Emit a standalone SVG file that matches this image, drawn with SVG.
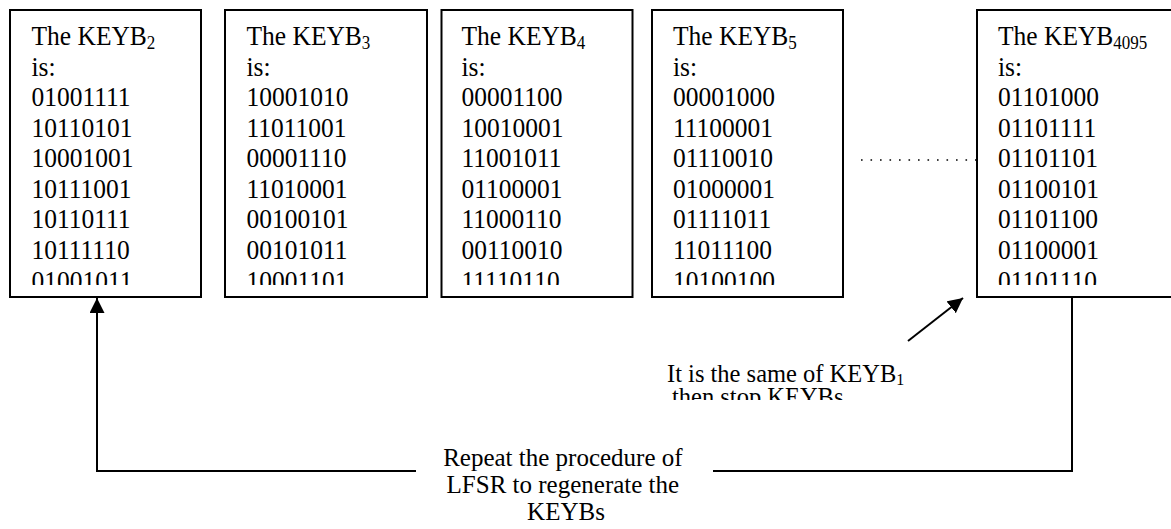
<svg xmlns="http://www.w3.org/2000/svg" width="1171" height="529" viewBox="0 0 1171 529">
  <style>
    .box { fill: #fff; stroke: #000; stroke-width: 2; }
    .t { font-family: "Liberation Serif", "Times New Roman", serif; font-size: 24px; fill: #000; }
    .k { font-size: 25.5px; }
    .k .sub { font-size: 17px; }
    .sub { font-size: 16px; }
    .note { font-size: 24.5px; }
    .rep { font-size: 25px; }
    .wire { fill: none; stroke: #000; stroke-width: 2; }
    .dots { fill: none; stroke: #000; stroke-width: 1.6; stroke-dasharray: 1.6 7.9; }
  </style>
  <defs>
    <marker id="head" markerUnits="userSpaceOnUse" markerWidth="16" markerHeight="16" refX="15" refY="7.5" orient="auto">
      <path d="M0,0 L15,7.5 L0,15 Z" fill="#000"/>
    </marker>
    <!-- last line of each key block is cut by the box frame -->
    <clipPath id="keyClip" clipPathUnits="userSpaceOnUse">
      <rect x="0" y="0" width="1171" height="285"/>
    </clipPath>
    <clipPath id="noteClip" clipPathUnits="userSpaceOnUse">
      <rect x="0" y="0" width="1171" height="400"/>
    </clipPath>
  </defs>

  <!-- connectors -->
  <g id="connectors">
    <path class="wire" d="M1072,297 V471 H713"/>
    <path class="wire" d="M416,471 H97 V298" marker-end="url(#head)"/>
    <line class="wire" x1="908" y1="341" x2="963" y2="298" marker-end="url(#head)"/>
    <line class="dots" x1="861" y1="160" x2="976" y2="160"/>
  </g>

  <g id="keyb2">
    <rect class="box" x="10" y="10" width="191" height="287"/>
    <g clip-path="url(#keyClip)">
      <text class="t k" transform="translate(31.5 0) scale(1 1.08)">
        <tspan x="0" y="42.13">The KEYB<tspan class="sub" dy="3">2</tspan></tspan>
        <tspan x="0" y="70.37">is:</tspan>
        <tspan x="0" y="98.61">01001111</tspan>
        <tspan x="0" y="126.85">10110101</tspan>
        <tspan x="0" y="155.09">10001001</tspan>
        <tspan x="0" y="183.33">10111001</tspan>
        <tspan x="0" y="211.57">10110111</tspan>
        <tspan x="0" y="239.81">10111110</tspan>
        <tspan x="0" y="268.06">01001011</tspan>
      </text>
    </g>
  </g>

  <g id="keyb3">
    <rect class="box" x="225" y="10" width="202" height="287"/>
    <g clip-path="url(#keyClip)">
      <text class="t k" transform="translate(246.5 0) scale(1 1.08)">
        <tspan x="0" y="42.13">The KEYB<tspan class="sub" dy="3">3</tspan></tspan>
        <tspan x="0" y="70.37">is:</tspan>
        <tspan x="0" y="98.61">10001010</tspan>
        <tspan x="0" y="126.85">11011001</tspan>
        <tspan x="0" y="155.09">00001110</tspan>
        <tspan x="0" y="183.33">11010001</tspan>
        <tspan x="0" y="211.57">00100101</tspan>
        <tspan x="0" y="239.81">00101011</tspan>
        <tspan x="0" y="268.06">10001101</tspan>
      </text>
    </g>
  </g>

  <g id="keyb4">
    <rect class="box" x="441.5" y="10" width="191" height="287"/>
    <g clip-path="url(#keyClip)">
      <text class="t k" transform="translate(461.5 0) scale(1 1.08)">
        <tspan x="0" y="42.13">The KEYB<tspan class="sub" dy="3">4</tspan></tspan>
        <tspan x="0" y="70.37">is:</tspan>
        <tspan x="0" y="98.61">00001100</tspan>
        <tspan x="0" y="126.85">10010001</tspan>
        <tspan x="0" y="155.09">11001011</tspan>
        <tspan x="0" y="183.33">01100001</tspan>
        <tspan x="0" y="211.57">11000110</tspan>
        <tspan x="0" y="239.81">00110010</tspan>
        <tspan x="0" y="268.06">11110110</tspan>
      </text>
    </g>
  </g>

  <g id="keyb5">
    <rect class="box" x="652" y="10" width="191" height="287"/>
    <g clip-path="url(#keyClip)">
      <text class="t k" transform="translate(673 0) scale(1 1.08)">
        <tspan x="0" y="42.13">The KEYB<tspan class="sub" dy="3">5</tspan></tspan>
        <tspan x="0" y="70.37">is:</tspan>
        <tspan x="0" y="98.61">00001000</tspan>
        <tspan x="0" y="126.85">11100001</tspan>
        <tspan x="0" y="155.09">01110010</tspan>
        <tspan x="0" y="183.33">01000001</tspan>
        <tspan x="0" y="211.57">01111011</tspan>
        <tspan x="0" y="239.81">11011100</tspan>
        <tspan x="0" y="268.06">10100100</tspan>
      </text>
    </g>
  </g>

  <g id="keyb4095">
    <rect class="box" x="977" y="10" width="204" height="287"/>
    <g clip-path="url(#keyClip)">
      <text class="t k" transform="translate(998 0) scale(1 1.08)">
        <tspan x="0" y="42.13">The KEYB<tspan class="sub" dy="3">4095</tspan></tspan>
        <tspan x="0" y="70.37">is:</tspan>
        <tspan x="0" y="98.61">01101000</tspan>
        <tspan x="0" y="126.85">01101111</tspan>
        <tspan x="0" y="155.09">01101101</tspan>
        <tspan x="0" y="183.33">01100101</tspan>
        <tspan x="0" y="211.57">01101100</tspan>
        <tspan x="0" y="239.81">01100001</tspan>
        <tspan x="0" y="268.06">01101110</tspan>
      </text>
    </g>
  </g>

  <g id="stop-note" clip-path="url(#noteClip)">
    <text class="t note" x="667" y="382">It is the same of KEYB<tspan class="sub" dy="3">1</tspan></text>
    <text class="t note" x="672" y="405">then stop KEYBs</text>
  </g>

  <g id="repeat-note">
    <text class="t rep" text-anchor="middle">
      <tspan x="566" y="466">Repeat the procedure of</tspan>
      <tspan x="566" y="493">LFSR to regenerate the</tspan>
      <tspan x="566" y="520">KEYBs</tspan>
    </text>
  </g>
</svg>
